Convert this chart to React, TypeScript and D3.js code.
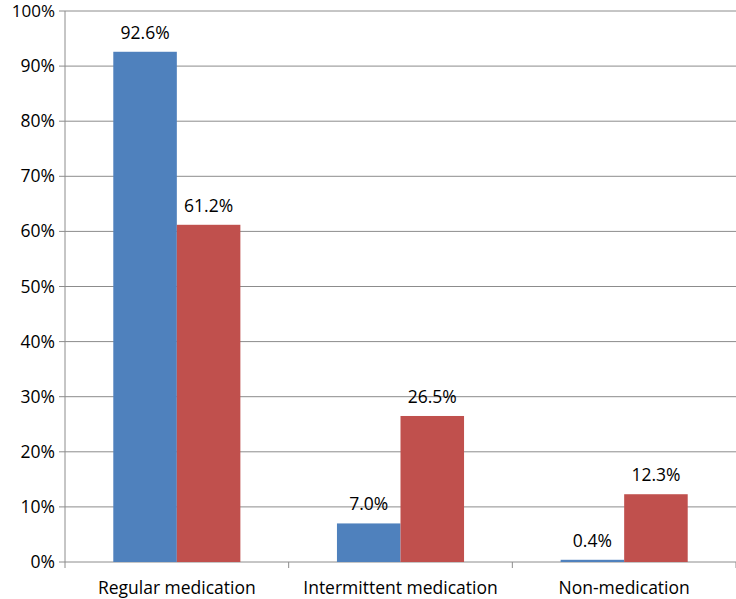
import React from "react";
import * as d3 from "d3";

const categories = ["Regular medication", "Intermittent medication", "Non-medication"];
const seriesA = [92.6, 7.0, 0.4];
const seriesB = [61.2, 26.5, 12.3];
const yTicks = [0, 10, 20, 30, 40, 50, 60, 70, 80, 90, 100];
const colors = ["#4F81BD", "#C0504D"];

export default function App() {
  const W = 736, H = 599;
  const left = 65, right = 736, top = 11, bottom = 562;
  const x = d3.scaleBand<string>().domain(categories).range([left, right]).paddingInner(0).paddingOuter(0);
  const y = d3.scaleLinear().domain([0, 100]).range([bottom, top]);
  const inner = d3.scaleBand<number>().domain([0, 1]).range([0, x.bandwidth()]).paddingOuter(0.76).paddingInner(0);
  const series = [seriesA, seriesB];
  const font = "'Open Sans', 'Liberation Sans', sans-serif";
  const fs = 17.5;
  return (
    <svg width={W} height={H} style={{ position: "absolute", left: 0, top: 0 }} fontFamily={font}>
      <rect width={W} height={H} fill="#fff" />
      {yTicks.map((t) => (
        <g key={t}>
          <line x1={left - 6} x2={right} y1={y(t)} y2={y(t)} stroke="#8c8c8c" strokeWidth={1} />
          <text x={55} y={y(t) + 6} textAnchor="end" fontSize={t === 100 ? 17 : fs} fill="#000">{t}%</text>
        </g>
      ))}
      <line x1={left} x2={left} y1={top} y2={bottom} stroke="#8c8c8c" />
      {categories.map((c) => (
        <line key={c} x1={x(c)! + x.bandwidth()} x2={x(c)! + x.bandwidth()} y1={bottom} y2={bottom + 6} stroke="#8c8c8c" />
      ))}
      <line x1={left} x2={left} y1={bottom} y2={bottom + 6} stroke="#8c8c8c" />
      {categories.map((c, i) => (
        <g key={c}>
          {series.map((s, j) => {
            const bx = x(c)! + inner(j)!;
            return (
              <g key={j}>
                <rect x={bx} y={y(s[i])} width={inner.bandwidth()} height={bottom - y(s[i])} fill={colors[j]} />
                <text x={bx + inner.bandwidth() / 2} y={y(s[i]) - 13} textAnchor="middle" fontSize={fs} fill="#000">
                  {s[i].toFixed(1)}%
                </text>
              </g>
            );
          })}
          <text x={x(c)! + x.bandwidth() / 2} y={594} textAnchor="middle" fontSize={fs} fill="#000">{c}</text>
        </g>
      ))}
    </svg>
  );
}
